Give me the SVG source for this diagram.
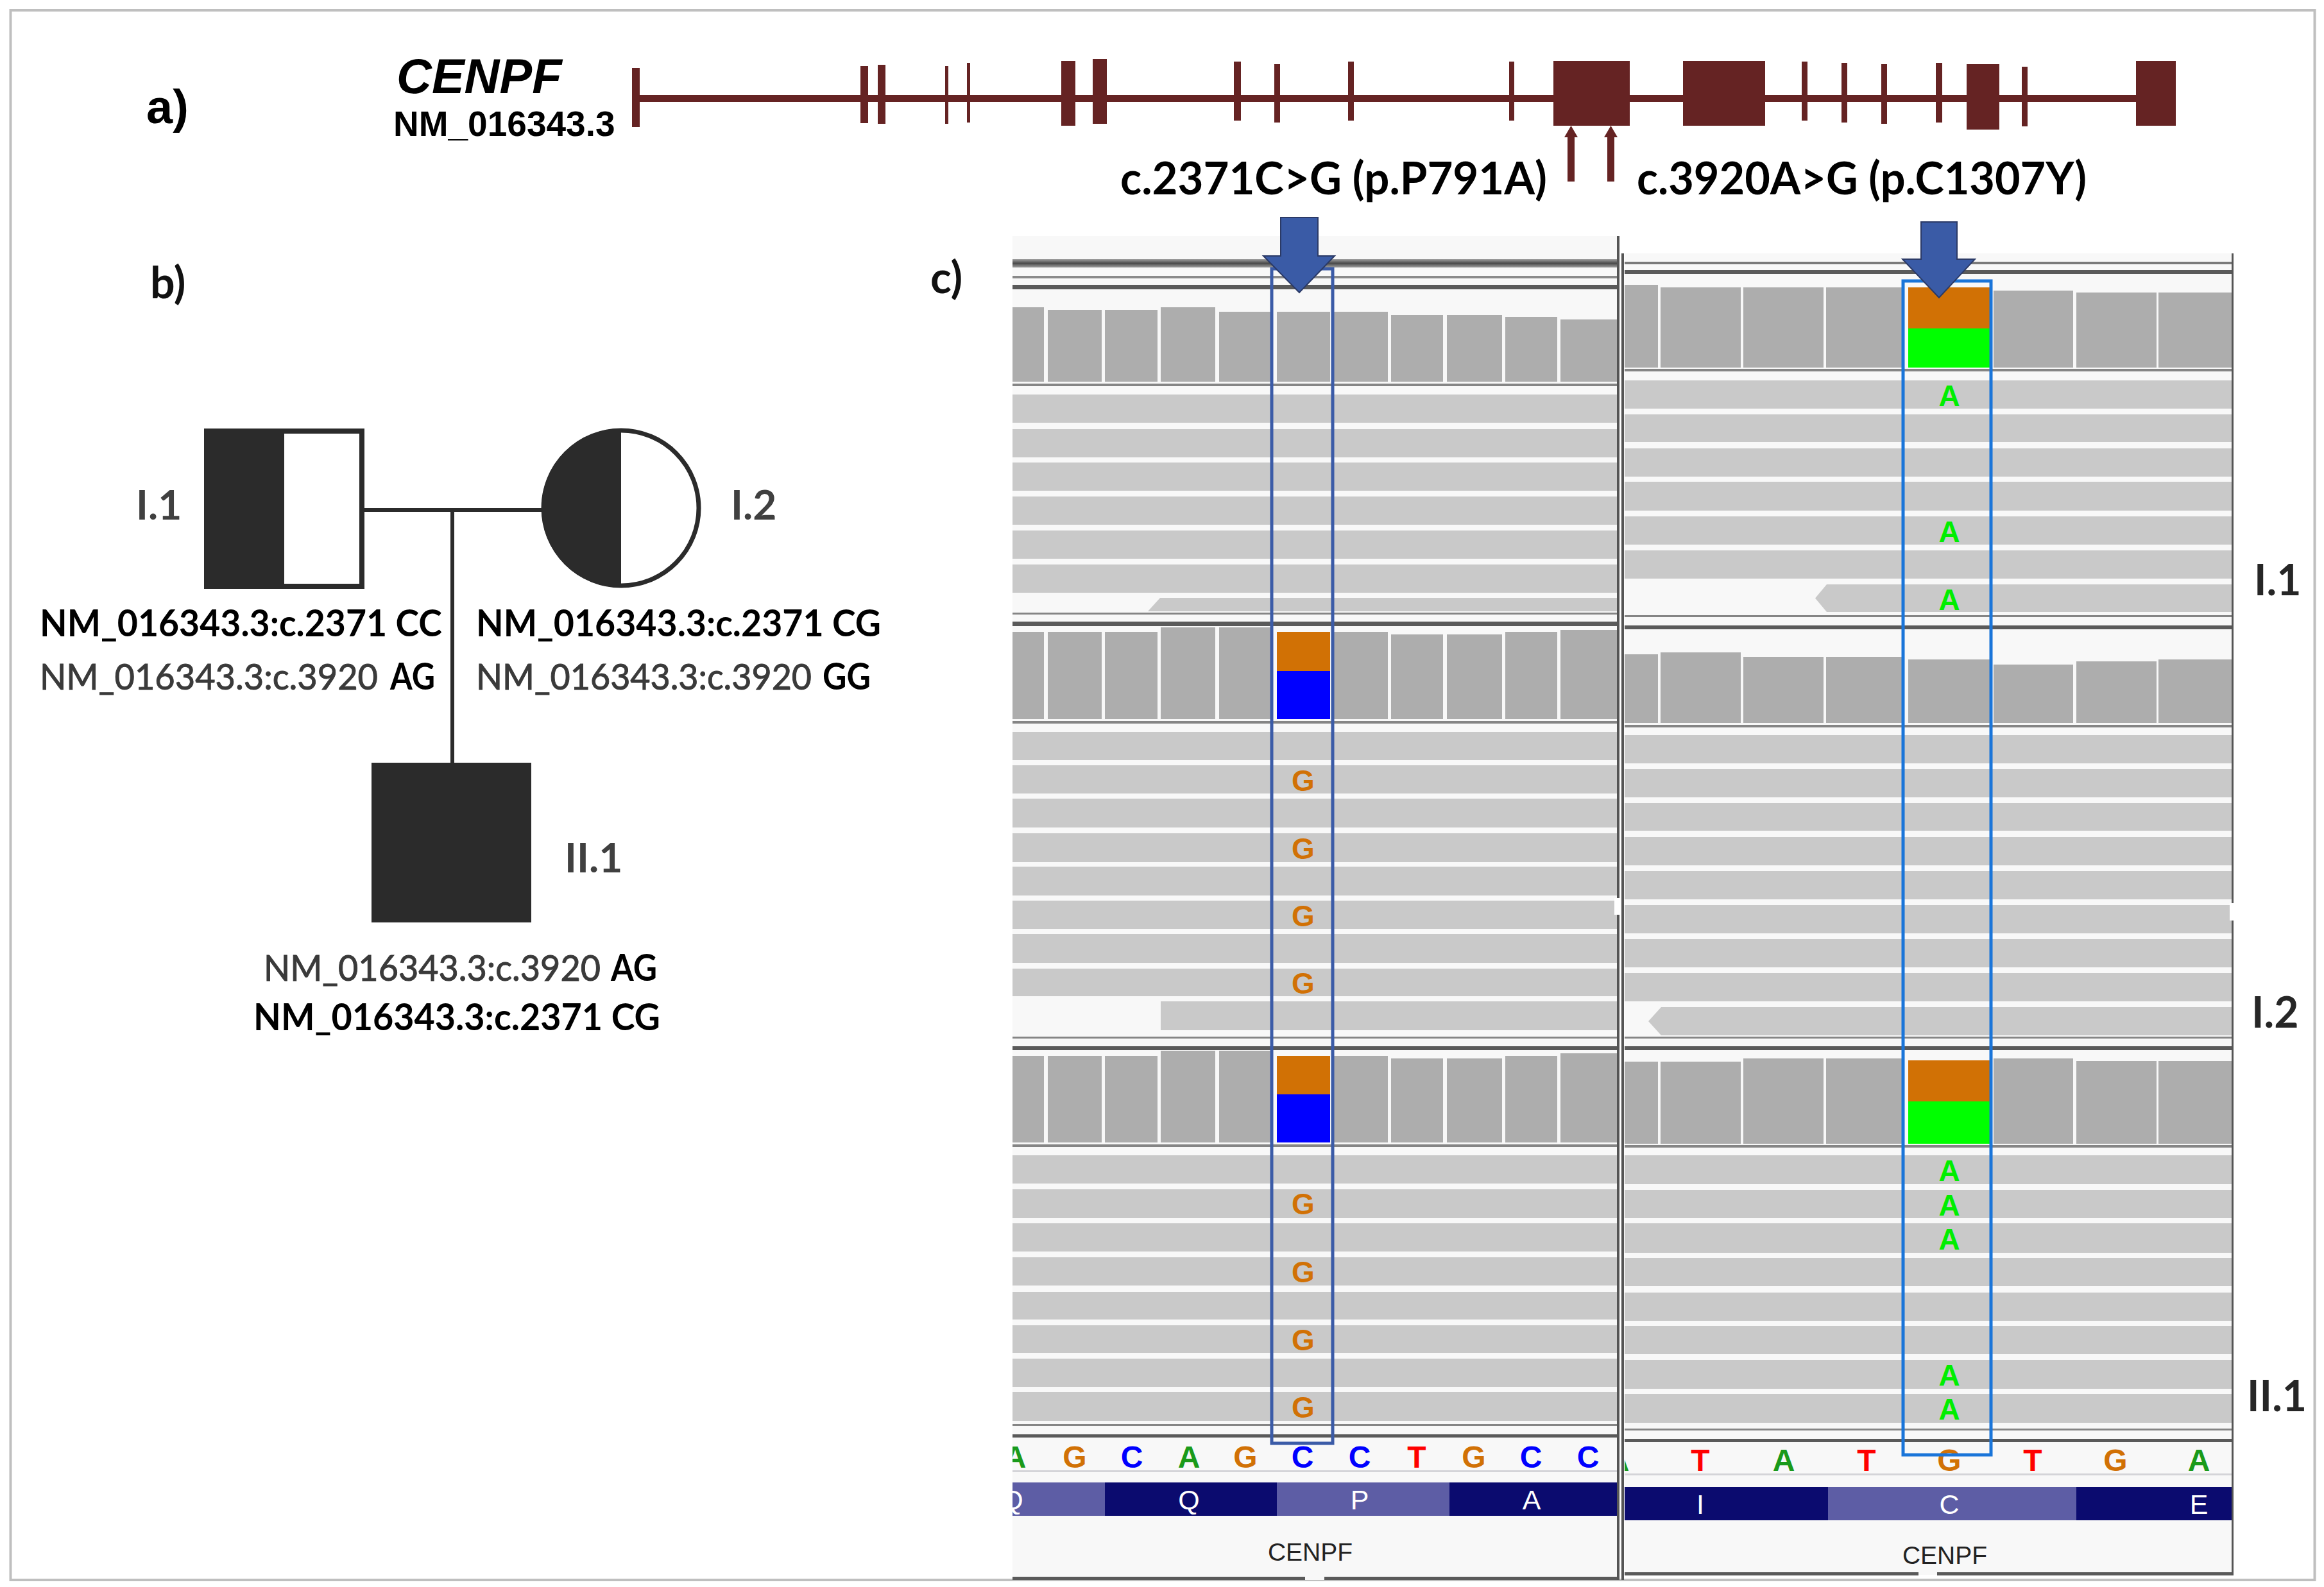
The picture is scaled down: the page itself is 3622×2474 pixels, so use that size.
<svg xmlns="http://www.w3.org/2000/svg" width="3622" height="2474" viewBox="0 0 3622 2474">
<style>
.gene{fill:#652323}
.lbl{font-family:Lato,"Liberation Sans",sans-serif;font-weight:bold}
.arial{font-family:"Liberation Sans",Arial,sans-serif}
.gt{font-family:Lato,"Liberation Sans",sans-serif;font-size:57px}
.gray{fill:#3a3a3a;font-weight:normal;stroke:#3a3a3a;stroke-width:1}
.blk{fill:#000;font-weight:bold}
.ped{fill:#2b2b2b}
.pedline{stroke:#2b2b2b;stroke-width:6;fill:none}
.bg{fill:#f8f8f8}
.cov{fill:#adadad}
.rd{fill:#c9c9c9}
.sep{fill:#858585}
.sepk{fill:#5a5a5a}
.edge{fill:#555}
.or{fill:#d17105}
.bl{fill:#0000ff}
.gr{fill:#00ff00}
.base{font-family:"Liberation Sans",Arial,sans-serif;font-weight:bold;font-size:48px;text-anchor:middle}
.mm{font-family:"Liberation Sans",Arial,sans-serif;font-weight:bold;font-size:46px;text-anchor:middle}
.aa{font-family:"Liberation Sans",Arial,sans-serif;font-size:43px;fill:#fff;text-anchor:middle}
.gname{font-family:"Liberation Sans",Arial,sans-serif;font-size:39px;fill:#222;text-anchor:middle}
.aad{fill:#0b0b6f}
.aal{fill:#5d5da5}
.rlab{font-family:Lato,"Liberation Sans",sans-serif;font-weight:bold;font-size:66px;fill:#262626}
</style>
<defs>
<clipPath id="clipL"><rect x="1578" y="360" width="943" height="2110"/></clipPath>
<clipPath id="clipR"><rect x="2532" y="390" width="947" height="2070"/></clipPath>
<linearGradient id="gsep" x1="0" y1="0" x2="0" y2="1">
<stop offset="0" stop-color="#a0a0a0"/><stop offset="0.5" stop-color="#4a4a4a"/><stop offset="1" stop-color="#a0a0a0"/>
</linearGradient>
</defs>
<rect x="0" y="0" width="3622" height="2474" fill="#fff"/>
<rect x="16.5" y="16" width="3591" height="2447" fill="none" stroke="#bfbfbf" stroke-width="4"/>

<!-- Panel a -->
<g id="panel-a">
<text x="228" y="192" class="arial" font-weight="bold" font-size="74">a)</text>
<text x="618" y="145" class="arial" font-weight="bold" font-style="italic" font-size="76">CENPF</text>
<text x="613" y="212" class="arial" font-weight="bold" font-size="55">NM_016343.3</text>
<g id="gene-model" class="gene">
<rect x="985" y="106" width="12" height="92"/>
<rect x="985" y="148" width="2345" height="11"/>
<rect x="1341" y="103" width="12" height="89"/>
<rect x="1368" y="101" width="12" height="92"/>
<rect x="1473" y="103" width="5" height="90"/>
<rect x="1507" y="98" width="5" height="93"/>
<rect x="1654" y="95" width="22" height="101"/>
<rect x="1703" y="92" width="22" height="101"/>
<rect x="1923" y="96" width="11" height="92"/>
<rect x="1986" y="100" width="9" height="91"/>
<rect x="2101" y="96" width="9" height="92"/>
<rect x="2352" y="96" width="8" height="92"/>
<rect x="2421" y="95" width="119" height="101"/>
<rect x="2623" y="95" width="128" height="101"/>
<rect x="2808" y="96" width="9" height="92"/>
<rect x="2870" y="98" width="9" height="93"/>
<rect x="2932" y="100" width="9" height="93"/>
<rect x="3017" y="98" width="10" height="93"/>
<rect x="3065" y="100" width="51" height="102"/>
<rect x="3151" y="104" width="9" height="93"/>
<rect x="3329" y="95" width="62" height="101"/>
</g>
<g id="variant-arrows" class="gene">
<rect x="2443" y="210" width="11" height="73"/>
<polygon points="2448.5,196 2438,214 2459,214"/>
<rect x="2505" y="210" width="11" height="73"/>
<polygon points="2510.5,196 2500,214 2521,214"/>
</g>
<text x="1746" y="303" class="lbl" font-size="70" textLength="665" lengthAdjust="spacingAndGlyphs">c.2371C&gt;G (p.P791A)</text>
<text x="2551" y="303" class="lbl" font-size="70" textLength="701" lengthAdjust="spacingAndGlyphs">c.3920A&gt;G (p.C1307Y)</text>
</g>

<!-- Panel b: pedigree -->
<g id="panel-b">
<text x="234" y="465" class="lbl" font-size="68" fill="#111">b)</text>
<g id="connectors">
<line class="pedline" x1="568" y1="795" x2="846" y2="795"/>
<line class="pedline" x1="705" y1="795" x2="705" y2="1190"/>
</g>
<g id="node-I1">
<rect x="322" y="672" width="242" height="242" fill="#fff" stroke="#2b2b2b" stroke-width="8"/>
<rect x="318" y="668" width="125" height="250" class="ped"/>
<text x="212" y="810" class="lbl" font-size="64" fill="#404040">I.1</text>
<text x="62" y="992" class="gt blk" textLength="627" lengthAdjust="spacingAndGlyphs">NM_016343.3:c.2371 CC</text>
<text x="62" y="1075" class="gt gray" textLength="527" lengthAdjust="spacingAndGlyphs">NM_016343.3:c.3920</text>
<text x="608" y="1075" class="gt blk" textLength="70" lengthAdjust="spacingAndGlyphs">AG</text>
</g>
<g id="node-I2">
<circle cx="968" cy="792" r="121" fill="#fff" stroke="#2b2b2b" stroke-width="7"/>
<path d="M968,668 A124,124 0 0 0 968,916 Z" class="ped"/>
<text x="1139" y="810" class="lbl" font-size="64" fill="#404040">I.2</text>
<text x="742" y="992" class="gt blk" textLength="631" lengthAdjust="spacingAndGlyphs">NM_016343.3:c.2371 CG</text>
<text x="742" y="1075" class="gt gray" textLength="523" lengthAdjust="spacingAndGlyphs">NM_016343.3:c.3920</text>
<text x="1282" y="1075" class="gt blk" textLength="75" lengthAdjust="spacingAndGlyphs">GG</text>
</g>
<g id="node-II1">
<rect x="579" y="1189" width="249" height="249" class="ped"/>
<text x="880" y="1360" class="lbl" font-size="64" fill="#404040">II.1</text>
<text x="411" y="1529" class="gt gray" textLength="525" lengthAdjust="spacingAndGlyphs">NM_016343.3:c.3920</text>
<text x="952" y="1529" class="gt blk" textLength="72" lengthAdjust="spacingAndGlyphs">AG</text>
<text x="395" y="1606" class="gt blk" textLength="634" lengthAdjust="spacingAndGlyphs">NM_016343.3:c.2371 CG</text>
</g>
</g>

<!-- Panel c -->
<text x="1450" y="457" class="lbl" font-size="68" fill="#111">c)</text>

<g id="igv-left" clip-path="url(#clipL)">
<rect x="1578" y="368" width="943" height="2095" class="bg"/>
<rect x="1578" y="404" width="943" height="13" fill="url(#gsep)"/>
<rect x="1578" y="430" width="943" height="4" fill="#8a8a8a"/>
<rect x="1578" y="444" width="943" height="7" class="sepk"/>
<g class="cov">
<rect x="1578" y="479" width="49" height="116"/>
<rect x="1633" y="483" width="84" height="112"/>
<rect x="1722" y="483" width="82" height="112"/>
<rect x="1809" y="479" width="85" height="116"/>
<rect x="1900" y="486" width="81" height="109"/>
<rect x="1990" y="486" width="83" height="109"/>
<rect x="2079" y="486" width="84" height="109"/>
<rect x="2168" y="491" width="81" height="104"/>
<rect x="2255" y="491" width="86" height="104"/>
<rect x="2346" y="494" width="81" height="101"/>
<rect x="2432" y="498" width="88" height="97"/>
</g>
<rect x="1578" y="598" width="943" height="4" class="sep"/>
<g class="rd">
<rect x="1578" y="615" width="943" height="44"/>
<rect x="1578" y="669" width="943" height="44"/>
<rect x="1578" y="721" width="943" height="44"/>
<rect x="1578" y="774" width="943" height="44"/>
<rect x="1578" y="827" width="943" height="44"/>
<rect x="1578" y="880" width="943" height="44"/>
<polygon points="1808,932 2521,932 2521,953 1789,953"/>
</g>
<rect x="1578" y="955" width="943" height="3" class="sep"/>
<rect x="1578" y="969" width="943" height="7" class="sepk"/>
<g class="cov">
<rect x="1578" y="985" width="49" height="136"/>
<rect x="1633" y="985" width="84" height="136"/>
<rect x="1722" y="985" width="82" height="136"/>
<rect x="1809" y="978" width="85" height="143"/>
<rect x="1900" y="978" width="81" height="143"/>
<rect x="2079" y="985" width="84" height="136"/>
<rect x="2168" y="989" width="81" height="132"/>
<rect x="2255" y="989" width="86" height="132"/>
<rect x="2346" y="985" width="81" height="136"/>
<rect x="2432" y="982" width="88" height="139"/>
</g>
<rect x="1990" y="985" width="83" height="61" class="or"/>
<rect x="1990" y="1046" width="83" height="75" class="bl"/>
<rect x="1578" y="1124" width="943" height="4" class="sep"/>
<g class="rd">
<rect x="1578" y="1141" width="943" height="44"/>
<rect x="1578" y="1193" width="943" height="44"/>
<rect x="1578" y="1245" width="943" height="45"/>
<rect x="1578" y="1299" width="943" height="45"/>
<rect x="1578" y="1351" width="943" height="45"/>
<rect x="1578" y="1404" width="943" height="44"/>
<rect x="1578" y="1456" width="943" height="45"/>
<rect x="1578" y="1510" width="943" height="43"/>
<rect x="1809" y="1561" width="712" height="45"/>
</g>
<g class="mm" fill="#d17105">
<text x="2031" y="1233">G</text>
<text x="2031" y="1339">G</text>
<text x="2031" y="1444">G</text>
<text x="2031" y="1549">G</text>
</g>
<rect x="1578" y="1616" width="943" height="3" class="sep"/>
<rect x="1578" y="1631" width="943" height="6" class="sepk"/>
<g class="cov">
<rect x="1578" y="1646" width="49" height="135"/>
<rect x="1633" y="1646" width="84" height="135"/>
<rect x="1722" y="1646" width="82" height="135"/>
<rect x="1809" y="1638" width="85" height="143"/>
<rect x="1900" y="1638" width="81" height="143"/>
<rect x="2079" y="1646" width="84" height="135"/>
<rect x="2168" y="1650" width="81" height="131"/>
<rect x="2255" y="1650" width="86" height="131"/>
<rect x="2346" y="1646" width="81" height="135"/>
<rect x="2432" y="1642" width="88" height="139"/>
</g>
<rect x="1990" y="1646" width="83" height="60" class="or"/>
<rect x="1990" y="1706" width="83" height="75" class="bl"/>
<rect x="1578" y="1784" width="943" height="4" class="sep"/>
<g class="rd">
<rect x="1578" y="1801" width="943" height="44"/>
<rect x="1578" y="1854" width="943" height="45"/>
<rect x="1578" y="1907" width="943" height="44"/>
<rect x="1578" y="1960" width="943" height="44"/>
<rect x="1578" y="2014" width="943" height="43"/>
<rect x="1578" y="2066" width="943" height="43"/>
<rect x="1578" y="2118" width="943" height="44"/>
<rect x="1578" y="2170" width="943" height="45"/>
</g>
<g class="mm" fill="#d17105">
<text x="2031" y="1893">G</text>
<text x="2031" y="1999">G</text>
<text x="2031" y="2105">G</text>
<text x="2031" y="2210">G</text>
</g>
<rect x="1578" y="2220" width="943" height="3" class="sep"/>
<rect x="1578" y="2236" width="943" height="5" class="sepk"/>
<g class="base">
<text x="1582" y="2288" fill="#1a9a1a">A</text>
<text x="1675" y="2288" fill="#d17105">G</text>
<text x="1764" y="2288" fill="#0000ff">C</text>
<text x="1853" y="2288" fill="#1a9a1a">A</text>
<text x="1941" y="2288" fill="#d17105">G</text>
<text x="2030" y="2288" fill="#0000ff">C</text>
<text x="2119" y="2288" fill="#0000ff">C</text>
<text x="2208" y="2288" fill="#ff0000">T</text>
<text x="2297" y="2288" fill="#d17105">G</text>
<text x="2386" y="2288" fill="#0000ff">C</text>
<text x="2475" y="2288" fill="#0000ff">C</text>
</g>
<rect x="1578" y="2292" width="943" height="3" fill="#d4d4d8"/>
<rect x="1578" y="2311" width="144" height="52" class="aal"/>
<rect x="1722" y="2311" width="268" height="52" class="aad"/>
<rect x="1990" y="2311" width="269" height="52" class="aal"/>
<rect x="2259" y="2311" width="262" height="52" class="aad"/>
<g class="aa">
<text x="1578" y="2353">Q</text>
<text x="1853" y="2353">Q</text>
<text x="2119" y="2353">P</text>
<text x="2387" y="2353">A</text>
</g>
<text x="2042" y="2433" class="gname">CENPF</text>
<rect x="1578" y="2458" width="456" height="5" class="sepk"/>
<rect x="2064" y="2458" width="457" height="5" class="sepk"/>
</g>
<rect x="2520" y="368" width="4" height="2095" class="edge"/>
<rect x="2516" y="1400" width="12" height="26" fill="#fff"/>

<g id="igv-right" clip-path="url(#clipR)">
<rect x="2532" y="395" width="947" height="2060" class="bg"/>
<rect x="2532" y="408" width="947" height="4" fill="#7a7a7a"/>
<rect x="2532" y="421" width="947" height="6" class="sepk"/>
<g class="cov">
<rect x="2532" y="444" width="52" height="129"/>
<rect x="2588" y="448" width="125" height="125"/>
<rect x="2717" y="448" width="125" height="125"/>
<rect x="2846" y="448" width="118" height="125"/>
<rect x="3107" y="453" width="124" height="120"/>
<rect x="3236" y="456" width="125" height="117"/>
<rect x="3364" y="456" width="115" height="117"/>
</g>
<rect x="2974" y="448" width="127" height="64" class="or"/>
<rect x="2974" y="512" width="127" height="61" class="gr"/>
<rect x="2532" y="575" width="947" height="4" class="sep"/>
<g class="rd">
<rect x="2532" y="593" width="947" height="44"/>
<rect x="2532" y="646" width="947" height="43"/>
<rect x="2532" y="699" width="947" height="44"/>
<rect x="2532" y="751" width="947" height="45"/>
<rect x="2532" y="805" width="947" height="44"/>
<rect x="2532" y="858" width="947" height="44"/>
<polygon points="2847,911 3479,911 3479,954 2847,954 2829,932.5"/>
</g>
<g class="mm" fill="#00ee00">
<text x="3038" y="633">A</text>
<text x="3038" y="845">A</text>
<text x="3038" y="951">A</text>
</g>
<rect x="2532" y="959" width="947" height="3" class="sep"/>
<rect x="2532" y="975" width="947" height="6" class="sepk"/>
<g class="cov">
<rect x="2532" y="1020" width="52" height="107"/>
<rect x="2588" y="1017" width="125" height="110"/>
<rect x="2717" y="1024" width="125" height="103"/>
<rect x="2846" y="1024" width="118" height="103"/>
<rect x="2974" y="1028" width="127" height="99"/>
<rect x="3107" y="1036" width="124" height="91"/>
<rect x="3236" y="1031" width="125" height="96"/>
<rect x="3364" y="1028" width="115" height="99"/>
</g>
<rect x="2532" y="1130" width="947" height="4" class="sep"/>
<g class="rd">
<rect x="2532" y="1146" width="947" height="44"/>
<rect x="2532" y="1199" width="947" height="44"/>
<rect x="2532" y="1252" width="947" height="43"/>
<rect x="2532" y="1305" width="947" height="44"/>
<rect x="2532" y="1358" width="947" height="44"/>
<rect x="2532" y="1411" width="947" height="44"/>
<rect x="2532" y="1464" width="947" height="44"/>
<rect x="2532" y="1517" width="947" height="44"/>
<polygon points="2589,1570 3479,1570 3479,1614 2589,1614 2569,1592"/>
</g>
<rect x="2532" y="1616" width="947" height="3" class="sep"/>
<rect x="2532" y="1631" width="947" height="6" class="sepk"/>
<g class="cov">
<rect x="2532" y="1655" width="52" height="128"/>
<rect x="2588" y="1655" width="125" height="128"/>
<rect x="2717" y="1650" width="125" height="133"/>
<rect x="2846" y="1650" width="118" height="133"/>
<rect x="3107" y="1650" width="124" height="133"/>
<rect x="3236" y="1654" width="125" height="129"/>
<rect x="3364" y="1654" width="115" height="129"/>
</g>
<rect x="2974" y="1653" width="127" height="64" class="or"/>
<rect x="2974" y="1717" width="127" height="66" class="gr"/>
<rect x="2532" y="1785" width="947" height="4" class="sep"/>
<g class="rd">
<rect x="2532" y="1801" width="947" height="45"/>
<rect x="2532" y="1855" width="947" height="44"/>
<rect x="2532" y="1907" width="947" height="46"/>
<rect x="2532" y="1961" width="947" height="44"/>
<rect x="2532" y="2015" width="947" height="44"/>
<rect x="2532" y="2067" width="947" height="44"/>
<rect x="2532" y="2120" width="947" height="45"/>
<rect x="2532" y="2173" width="947" height="45"/>
</g>
<g class="mm" fill="#00ee00">
<text x="3038" y="1841">A</text>
<text x="3038" y="1895">A</text>
<text x="3038" y="1948">A</text>
<text x="3038" y="2160">A</text>
<text x="3038" y="2213">A</text>
</g>
<rect x="2532" y="2227" width="947" height="3" class="sep"/>
<rect x="2532" y="2243" width="947" height="5" class="sepk"/>
<g class="base">
<text x="2522" y="2293" fill="#1a9a1a">A</text>
<text x="2650" y="2293" fill="#ff0000">T</text>
<text x="2780" y="2293" fill="#1a9a1a">A</text>
<text x="2909" y="2293" fill="#ff0000">T</text>
<text x="3038" y="2293" fill="#d17105">G</text>
<text x="3168" y="2293" fill="#ff0000">T</text>
<text x="3297" y="2293" fill="#d17105">G</text>
<text x="3427" y="2293" fill="#1a9a1a">A</text>
</g>
<rect x="2532" y="2297" width="947" height="3" fill="#d4d4d8"/>
<rect x="2532" y="2318" width="317" height="52" class="aad"/>
<rect x="2849" y="2318" width="387" height="52" class="aal"/>
<rect x="3236" y="2318" width="243" height="52" class="aad"/>
<g class="aa">
<text x="2650" y="2360">I</text>
<text x="3038" y="2360">C</text>
<text x="3427" y="2360">E</text>
</g>
<text x="3031" y="2438" class="gname">CENPF</text>
<rect x="2532" y="2451" width="458" height="5" class="sepk"/>
<rect x="3019" y="2451" width="460" height="5" class="sepk"/>
</g>
<rect x="2527" y="395" width="4" height="2068" class="edge"/>
<rect x="3478" y="395" width="3" height="2061" class="edge"/>
<rect x="3475" y="1408" width="9" height="27" fill="#fff"/>

<g id="highlights">
<rect x="1982" y="419" width="95" height="1831" fill="none" stroke="#3b5ba7" stroke-width="5"/>
<rect x="2966" y="438" width="137" height="1830" fill="none" stroke="#1a75d9" stroke-width="5"/>
<polygon points="1996,339 2054,339 2054,399 2080,399 2025,456 1969,399 1996,399" fill="#3a5ba6" stroke="#2b3a66" stroke-width="2"/>
<polygon points="2994,346 3050,346 3050,404 3078,404 3022,464 2965,404 2994,404" fill="#3a5ba6" stroke="#2b3a66" stroke-width="2"/>
</g>

<g id="sample-labels">
<text x="3513" y="928" class="rlab">I.1</text>
<text x="3509" y="1602" class="rlab">I.2</text>
<text x="3502" y="2200" class="rlab">II.1</text>
</g>
</svg>
